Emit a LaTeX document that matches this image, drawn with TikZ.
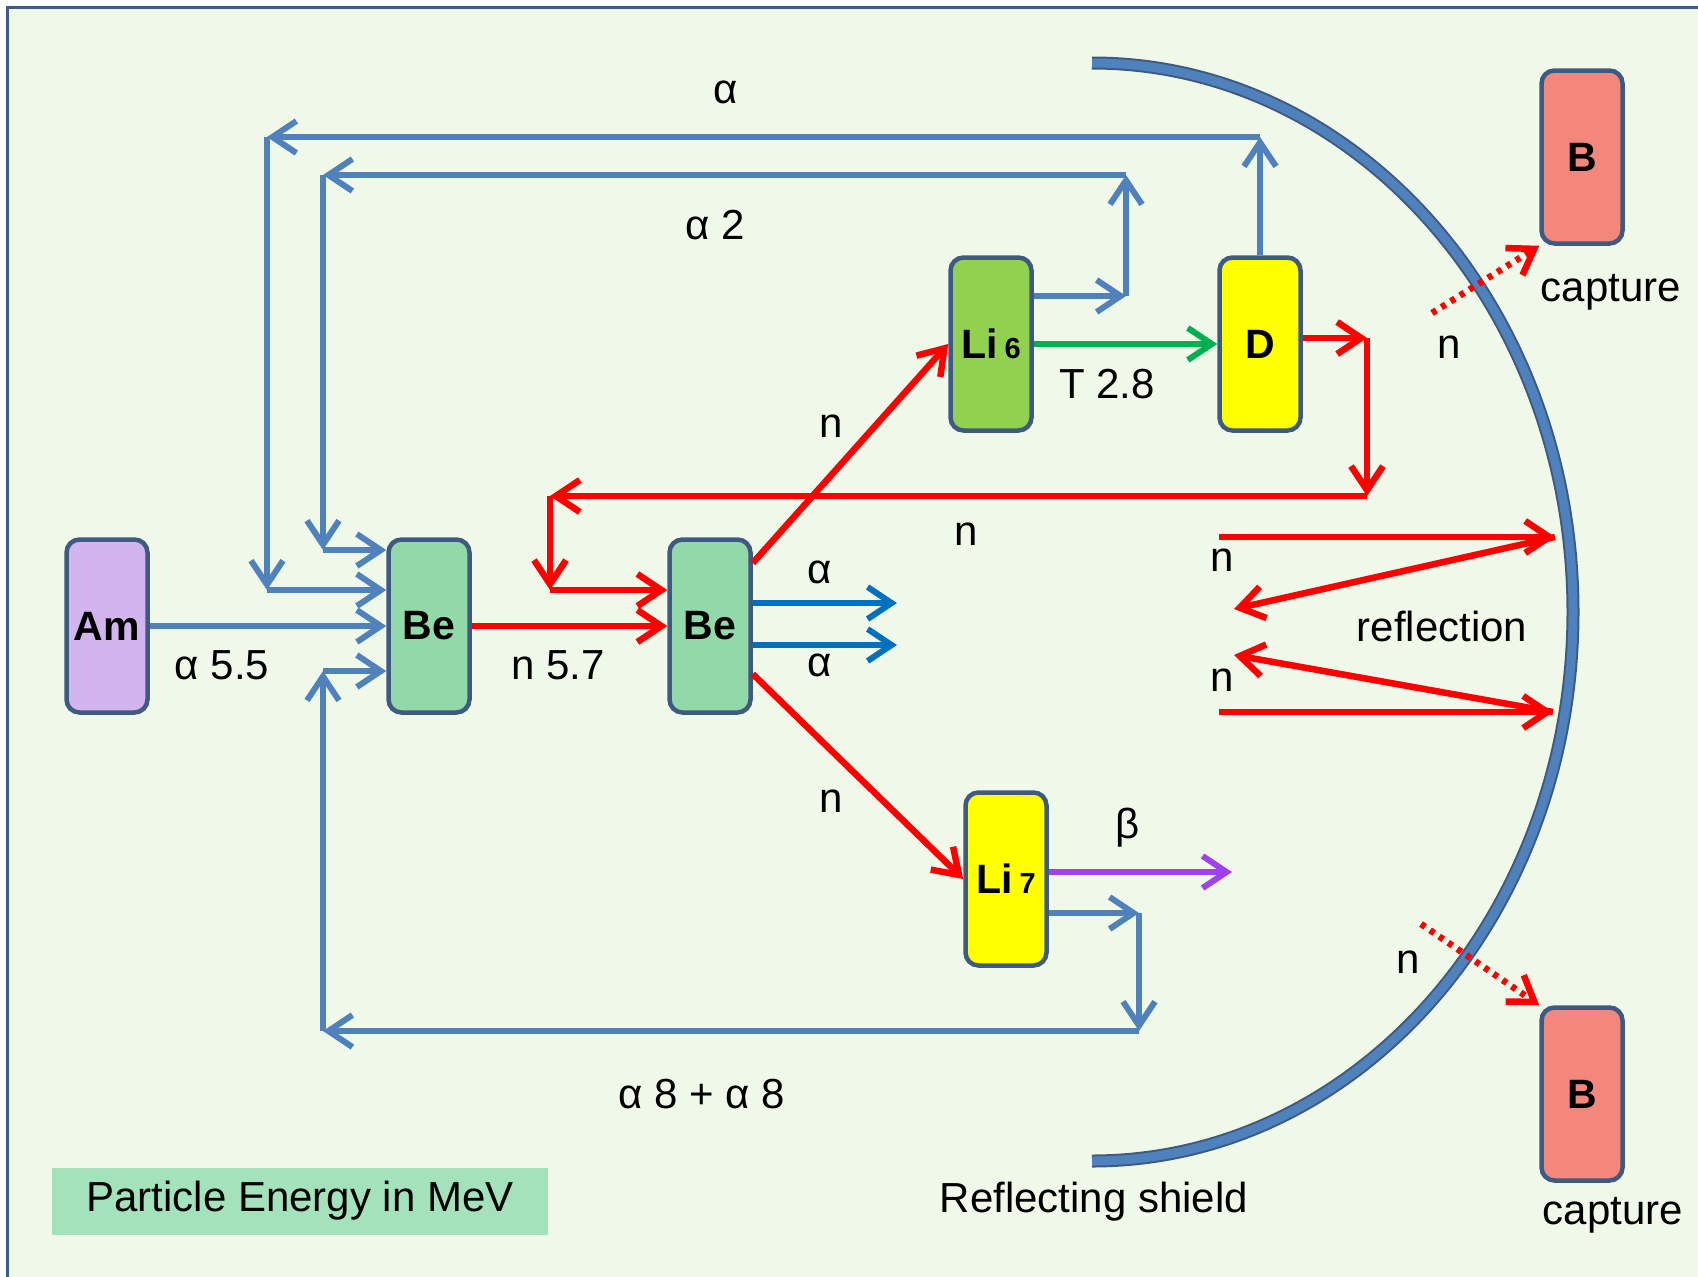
\documentclass[tikz,border=0pt]{standalone}
\usepackage{fontspec}
\setmainfont{Liberation Sans}
\usepackage{tikz}
\usetikzlibrary{arrows.meta,calc}
\tikzset{>={Straight Barb[length=24pt,width=32pt]}}
\definecolor{SlideBg}{HTML}{F0F8E9}
\definecolor{FrameBlue}{HTML}{3F5B8C}
\definecolor{BoxEdge}{HTML}{3E5A80}
\definecolor{FlowBlue}{HTML}{4F81BD}
\definecolor{AlphaBlue}{HTML}{0070C0}
\definecolor{FlowRed}{HTML}{FF0000}
\definecolor{FlowGreen}{HTML}{00B050}
\definecolor{FlowPurple}{HTML}{A040F0}
\definecolor{AmFill}{HTML}{D2B4EE}
\definecolor{BeFill}{HTML}{92D9A9}
\definecolor{LiSixFill}{HTML}{92D050}
\definecolor{YellowFill}{HTML}{FFFF00}
\definecolor{BoronFill}{HTML}{F4877B}
\definecolor{KeyFill}{HTML}{A4E2BC}
\newcommand{\labfont}{\fontsize{42}{48}\selectfont}
\newcommand{\boxfont}{\fontsize{41}{46}\selectfont\bfseries}
\newcommand{\idxfont}{\fontsize{29}{34}\selectfont\bfseries}
\tikzset{
  nucl/.style={draw=BoxEdge, line width=4.5pt, rounded corners=13pt,
    minimum width=81pt, minimum height=173pt, inner sep=0pt, font=\boxfont},
  lab/.style={font=\labfont, inner sep=0pt},
  bflow/.style={->, draw=FlowBlue, line width=6pt},
  rflow/.style={->, draw=FlowRed, line width=6.5pt},
}

\begin{document}
\begin{tikzpicture}[x=1pt,y=-1pt]
  \useasboundingbox (0,0) rectangle (1698,1277);
  \fill[white] (0,0) rectangle (1698,1277);
  \fill[SlideBg] (8,8) rectangle (1698,1277);
  \draw[FrameBlue, line width=3pt] (7,1277) -- (7,7) -- (1698,7);

  % reflecting shield
  \draw[BoxEdge, line width=2pt, double=FlowBlue, double distance=9pt]
    (1092,63) arc[start angle=-90, end angle=90, x radius=481, y radius=549];

  \foreach \nm/\x/\y/\col/\txt in {
    am/107/626/AmFill/Am, bea/429/626/BeFill/Be, beb/710/626/BeFill/Be,
    lisix/991/344/LiSixFill/{Li\,{\idxfont 6}}, deut/1260/344/YellowFill/D,
    liseven/1006/879/YellowFill/{Li\,{\idxfont 7}},
    btop/1582/157/BoronFill/B, bbot/1582/1094/BoronFill/B}{
    \node[nucl, fill=\col] (\nm) at (\x,\y) {\txt};
  }
  \node[fill=KeyFill, minimum width=496pt, minimum height=67pt, font=\labfont]
    (key) at (300,1201) {Particle Energy in MeV};

  \foreach \nm/\x/\y/\txt in {
    ltop/726/92/α, ltwo/715/225/α 2, lam/222/665/α 5.5, lbe/558/665/n 5.7,
    lnsix/831/426/n, lnback/966/534/n, lau/820/572/α, lad/820/665/α,
    lnseven/831/801/n, ltrit/1107/384/T 2.8, lbeta/1128/828/β,
    lrec/702/1094/α 8 + α 8, lru/1222/560/n, lrd/1222/680/n,
    lrefl/1442/626/reflection, lcu/1449/347/n, lcapu/1611/292/capture,
    lcd/1408/962/n, lcapd/1613/1215/capture, lshield/1094/1202/Reflecting shield}{
    \node[lab] (\nm) at (\x,\y) {\txt};
  }

  \draw[bflow] (am.east) -- (bea.west);
  \draw[rflow] (bea.east) -- (beb.west);

  % alpha from D back to Be
  \coordinate (da1) at (1260,137);
  \coordinate (da2) at (267,137);
  \coordinate (da3) at (267,590);
  \foreach \a/\b in {deut.north/da1, da1/da2, da2/da3, da3/da3 -| bea.west}
    \draw[bflow] (\a) -- (\b);

  % alpha 2 from Li 6
  \coordinate (la0) at ([yshift=48pt]lisix.east);
  \coordinate (la1) at (1126,296);
  \coordinate (la2) at (1126,175);
  \coordinate (la3) at (323,175);
  \coordinate (la4) at (323,550);
  \foreach \a/\b in {la0/la1, la1/la2, la2/la3, la3/la4, la4/la4 -| bea.west}
    \draw[bflow] (\a) -- (\b);

  % alpha 8 from Li 7
  \coordinate (lb0) at ([yshift=-34pt]liseven.east);
  \coordinate (lb1) at (1139,913);
  \coordinate (lb2) at (1139,1031);
  \coordinate (lb3) at (323,1031);
  \coordinate (lb4) at (323,671);
  \foreach \a/\b in {lb0/lb1, lb1/lb2, lb2/lb3, lb3/lb4, lb4/lb4 -| bea.west}
    \draw[bflow] (\a) -- (\b);

  % neutron from D back to Be
  \coordinate (rf0) at ([yshift=6pt]deut.east);
  \coordinate (rf1) at (1367,338);
  \coordinate (rf2) at (1367,496);
  \coordinate (rf3) at (550,496);
  \coordinate (rf4) at (550,590);
  \foreach \a/\b in {rf0/rf1, rf1/rf2, rf2/rf3, rf3/rf4, rf4/rf4 -| beb.west}
    \draw[rflow] (\a) -- (\b);

  \draw[rflow] ([yshift=63pt]beb.east) -- (lisix.west);
  \draw[rflow] ([yshift=-48pt]beb.east) -- (liseven.west);
  \coordinate (ax1) at (897,603);
  \coordinate (ax2) at (897,645);
  \draw[bflow, draw=AlphaBlue] (ax1 -| beb.east) -- (ax1);
  \draw[bflow, draw=AlphaBlue] (ax2 -| beb.east) -- (ax2);
  \draw[->, draw=FlowGreen, line width=6pt] (lisix.east) -- (deut.west);
  \coordinate (bx) at (1232,872);
  \draw[->, draw=FlowPurple, line width=6pt] (bx -| liseven.east) -- (bx);

  % reflection
  \coordinate (r1s) at (1219,537);
  \coordinate (r1h) at (1555,537);
  \coordinate (r1e) at (1234,609);
  \coordinate (r2s) at (1219,712);
  \coordinate (r2h) at (1553,712);
  \coordinate (r2e) at (1234,655);
  \foreach \a/\b in {r1s/r1h, r1h/r1e, r2s/r2h, r2h/r2e}
    \draw[rflow] (\a) -- (\b);

  % capture
  \coordinate (ns1) at (1432,313);
  \coordinate (ns2) at (1421,924);
  \draw[rflow, dash pattern=on 5pt off 6pt] (ns1) -- (btop.south west);
  \draw[rflow, dash pattern=on 5pt off 6pt] (ns2) -- (bbot.north west);
\end{tikzpicture}
\end{document}
